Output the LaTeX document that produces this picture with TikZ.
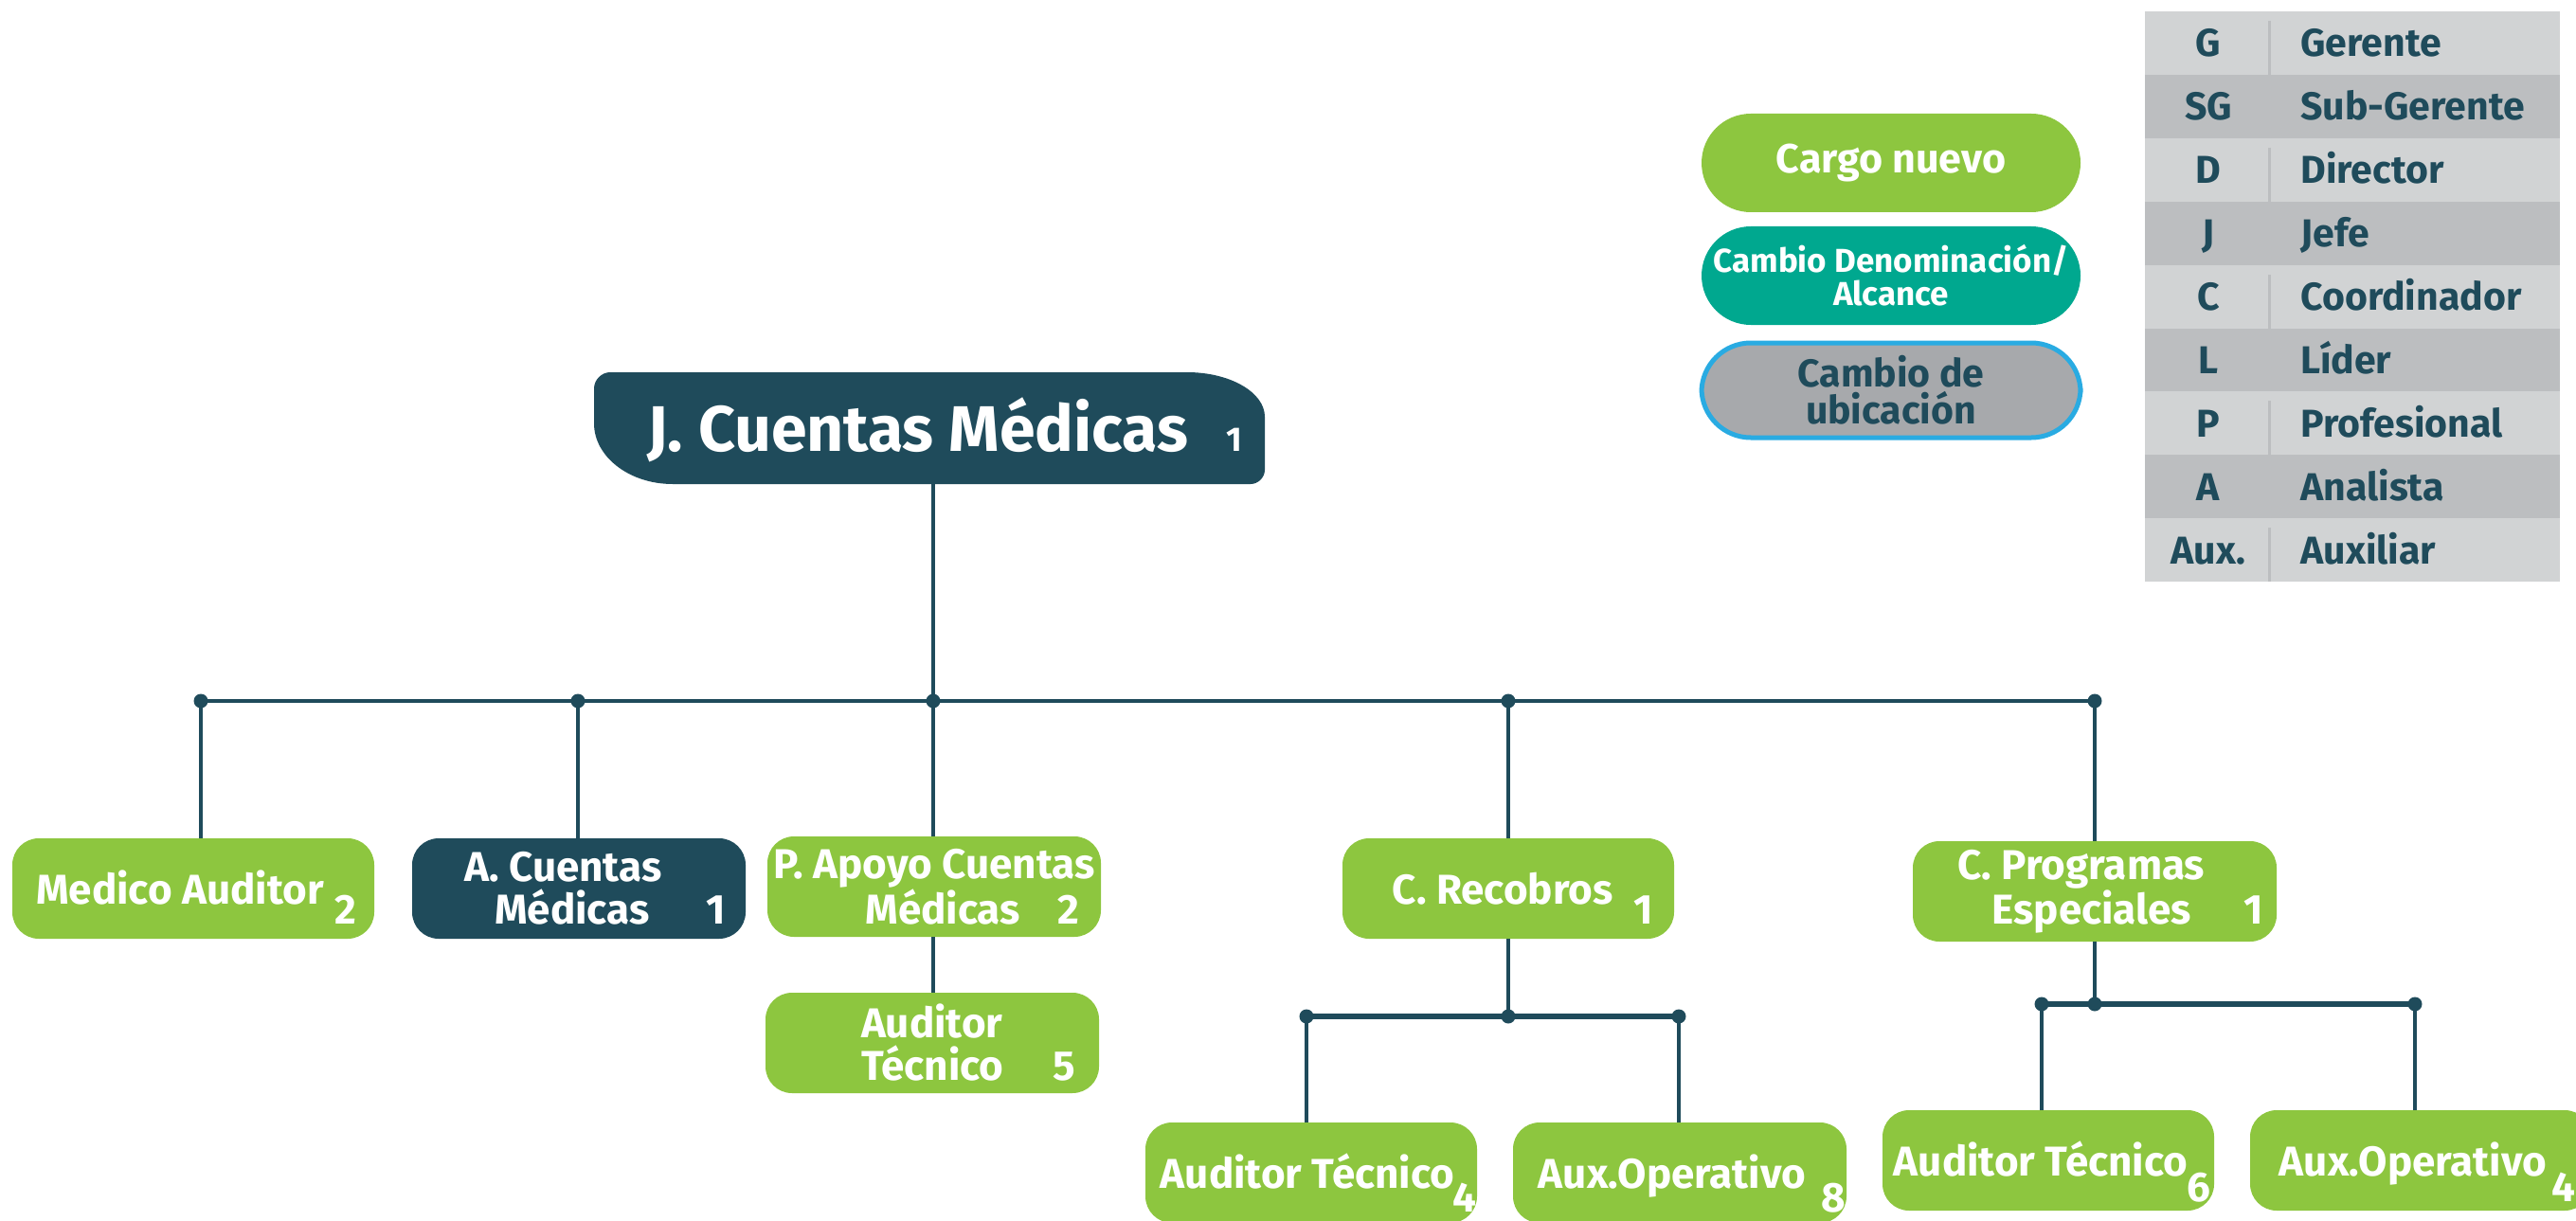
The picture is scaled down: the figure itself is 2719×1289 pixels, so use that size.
\documentclass[tikz,border=0pt]{standalone}
\usepackage{fontspec}
\setmainfont{Fira Sans}
\definecolor{navy}{HTML}{1F4B5B}
\definecolor{cgreen}{HTML}{8DC63F}
\definecolor{cteal}{HTML}{00A88F}
\definecolor{cgray}{HTML}{A7A9AC}
\definecolor{cblue}{HTML}{29ABE2}
\definecolor{tlight}{HTML}{D1D3D4}
\definecolor{tdark}{HTML}{BCBEC0}
\begin{document}
\begin{tikzpicture}[x=0.5pt,y=-0.5pt,
  conn/.style={draw=navy, line width=2pt},
  subconn/.style={draw=navy, line width=2.6pt},
  dot/.style={circle, fill=navy, inner sep=0pt, minimum size=7.5pt},
  box/.style={rounded corners=14pt, inner sep=0pt, minimum height=53pt, text=white,
    font=\bfseries\fontsize{22}{22.5}\selectfont},
  one/.style={text height=16pt, text depth=0pt},
  two/.style={align=left},
  greenbox/.style={box, fill=cgreen},
  navybox/.style={box, fill=navy},
  numtxt/.style={anchor=base west, inner sep=0pt, text=white, font=\bfseries\fontsize{22}{22.5}\selectfont},
  legbox/.style={rounded corners=26pt, inner sep=0pt, minimum width=200pt, minimum height=52pt, align=center},
  cell/.style={inner sep=0pt, text=navy, font=\bfseries\fontsize{20.5}{20.5}\selectfont, text height=14.5pt, text depth=0pt},
]
\useasboundingbox (0,0) rectangle (2719,1289);

% ---- root box shape
\fill[navy] (644,393) -- (1253,393) .. controls (1298,393) and (1335,414) .. (1335,440)
  -- (1335,496) .. controls (1335,504) and (1328,511) .. (1320,511)
  -- (710,511) .. controls (664,511) and (627,482) .. (627,447)
  -- (627,410) .. controls (627,401) and (635,393) .. (644,393) -- cycle;
\node[inner sep=0pt, minimum width=354pt, minimum height=59pt, text=white,
  font=\bfseries\fontsize{34}{34}\selectfont, text height=24pt, text depth=0pt] (root) at (981,452)
  {\hspace*{16pt}J. Cuentas Médicas\hspace{20pt}{\fontsize{18}{18}\selectfont 1}};

% ---- level 1
\node[greenbox, one, minimum width=191pt] (ma) at (204,938) {Medico Auditor\hspace*{14pt}};
\node[numtxt] (man) at (353,975) {2};
\node[navybox, two, minimum width=176pt] (ac) at (611,938) {\hspace*{17pt}A. Cuentas\\\hspace*{33pt}Médicas\hspace{30pt}1};
\node[greenbox, align=right, minimum width=176pt] (pa) at (986,936) {P. Apoyo Cuentas\\Médicas\hspace{20pt}2\hspace*{8pt}};
\node[greenbox, one, minimum width=175pt] (cr) at (1592,938) {C. Recobros\hspace*{6pt}};
\node[numtxt] (crn) at (1724,975) {1};
\node[greenbox, two, minimum width=192pt] (cp) at (2211,941) {\hspace*{17pt}C. Programas\\\hspace*{35pt}Especiales\hspace{28pt}1};

\node[greenbox, two, minimum width=176pt] (at5) at (984,1101) {\hspace*{38pt}Auditor\\\hspace*{38pt}Técnico\hspace{26pt}5};

\node[greenbox, one, minimum width=175pt] (at4) at (1384,1238) {Auditor Técnico\hspace*{4pt}};
\node[numtxt] (at4n) at (1533,1279) {4};
\node[greenbox, one, minimum width=176pt] (ao8) at (1773,1238) {Aux.Operativo\hspace*{8pt}};
\node[numtxt] (ao8n) at (1922,1279) {8};
\node[greenbox, one, minimum width=175pt] (at6) at (2162,1225) {Auditor Técnico\hspace*{8pt}};
\node[numtxt] (at6n) at (2308,1268) {6};
\node[greenbox, one, minimum width=180pt] (ao4) at (2555,1225) {Aux.Operativo\hspace*{8pt}};
\node[numtxt] (ao4n) at (2693,1268) {4};

% ---- bus
\node[dot] (d1) at (212,740) {};
\node[dot] (d2) at (610,740) {};
\node[dot] (d3) at (985,740) {};
\node[dot] (d4) at (1592,740) {};
\node[dot] (d5) at (2211,740) {};
\draw[conn] (d1.center) -- (d5.center);
\draw[conn] (root.south -| d3) -- (d3.center);
\draw[conn] (d1.center) -- (d1 |- ma.north);
\draw[conn] (d2.center) -- (d2 |- ac.north);
\draw[conn] (d3.center) -- (d3 |- pa.north);
\draw[conn] (d4.center) -- (d4 |- cr.north);
\draw[conn] (d5.center) -- (d5 |- cp.north);
\draw[conn] (pa.south -| d3) -- (d3 |- at5.north);

% ---- recobros
\node[dot] (r1) at (1379,1073) {};
\node[dot] (r2) at (1592,1073) {};
\node[dot] (r3) at (1772,1073) {};
\draw[conn] (cr.south) -- (r2.center);
\draw[subconn] (r1.center) -- (r3.center);
\draw[conn] (r1.center) -- (r1 |- at4.north);
\draw[conn] (r3.center) -- (r3 |- ao8.north);

% ---- programas
\node[dot] (p1) at (2155,1060) {};
\node[dot] (p2) at (2211,1060) {};
\node[dot] (p3) at (2549,1060) {};
\draw[conn] (cp.south -| p2) -- (p2.center);
\draw[subconn] (p1.center) -- (p3.center);
\draw[conn] (p1.center) -- (p1 |- at6.north);
\draw[conn] (p3.center) -- (p3 |- ao4.north);

% ---- legend
\node[legbox, fill=cgreen, text=white, font=\bfseries\fontsize{21.5}{21.5}\selectfont] (lg1) at (1996,172) {Cargo nuevo};
\node[legbox, fill=cteal, text=white, font=\bfseries\fontsize{17.5}{17.5}\selectfont] (lg2) at (1996,291) {Cambio Denominación/\\Alcance};
\node[legbox, fill=cgray, draw=cblue, line width=2.5pt, minimum width=200pt, minimum height=50pt, text=navy,
  font=\bfseries\fontsize{20.5}{19.5}\selectfont] (lg3) at (1996,412) {Cambio de\\ubicación};

% ---- table
\foreach \ab/\full [count=\i from 0] in {G/Gerente, SG/Sub-Gerente, D/Director, J/Jefe, C/Coordinador, L/Líder, P/Profesional, A/Analista, Aux./Auxiliar}{
  \pgfmathsetmacro{\ytop}{12+66.9*\i}
  \pgfmathsetmacro{\ybot}{12+66.9*(\i+1)}
  \pgfmathsetmacro{\ymid}{12+66.9*(\i+0.5)}
  \ifodd\i
    \fill[tdark] (2264,\ytop) rectangle (2702,\ybot);
  \else
    \fill[tlight] (2264,\ytop) rectangle (2702,\ybot);
    \draw[tdark, line width=1.5pt] (2395,\ytop+10) -- (2395,\ybot);
  \fi
  \node[cell] (ta\i) at (2331,\ymid) {\ab};
  \node[cell, anchor=west] (tb\i) at (2428,\ymid) {\full};
}
\end{tikzpicture}
\end{document}
